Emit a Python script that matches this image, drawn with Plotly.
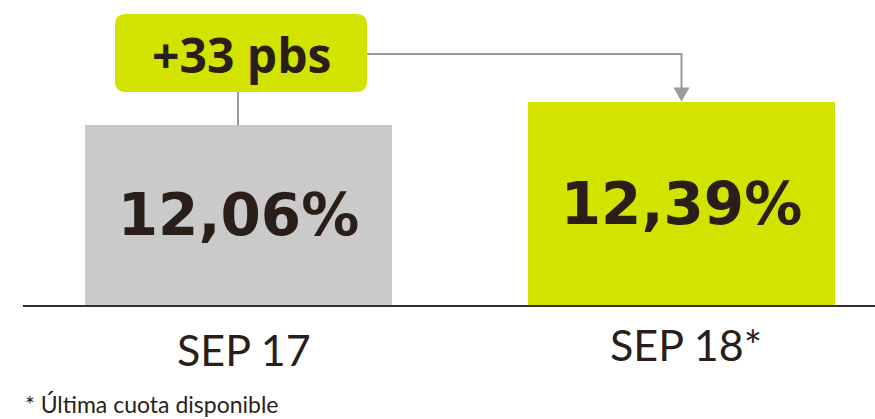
import plotly.graph_objects as go

# ---- data ----
categories = ["SEP 17", "SEP 18*"]
values = [12.06, 12.39]
value_labels = ["12,06%", "12,39%"]
bar_colors = ["#cacaca", "#d3e300"]
delta_label = "+33 pbs"
footnote = "* Última cuota disponible"

# ---- style ----
TEXT = "#2a1f18"
LINE = "#9a9a9a"
LIME = "#d3e300"
NARROW = "Lato, Roboto, sans-serif"

W, H = 875, 419
ML, MR, MT, MB = 23, 0, 0, 114
plot_w = W - ML - MR
plot_h = H - MT - MB

x_range = [-0.4865, 1.4368]
y_range = [9.591, 13.786]

def px_to_x(px):
    return x_range[0] + (px - ML) / plot_w * (x_range[1] - x_range[0])

def py_to_y(py):
    return y_range[1] - (py - MT) / plot_h * (y_range[1] - y_range[0])

def x_to_px(x):
    return ML + (x - x_range[0]) / (x_range[1] - x_range[0]) * plot_w

def y_to_py(y):
    return MT + (y_range[1] - y) / (y_range[1] - y_range[0]) * plot_h

fig = go.Figure()
fig.add_trace(go.Bar(
    x=[0, 1], y=[v - y_range[0] for v in values], base=y_range[0],
    width=0.693,
    marker=dict(color=bar_colors, line=dict(width=0)),
    text=value_labels, textposition="inside", insidetextanchor="middle",
    textangle=0,
    textfont=dict(family="DejaVu Sans", size=58, color=TEXT, weight="bold"),
    hoverinfo="skip",
))

# ---- delta box (rounded) ----
c0 = x_to_px(0)
bx0, bx1 = c0 - 123.5, c0 + 128.5
by0, by1 = 14, 92
r = 11
pts = [
    f"M {px_to_x(bx0 + r)},{py_to_y(by0)}",
    f"L {px_to_x(bx1 - r)},{py_to_y(by0)}",
    f"Q {px_to_x(bx1)},{py_to_y(by0)} {px_to_x(bx1)},{py_to_y(by0 + r)}",
    f"L {px_to_x(bx1)},{py_to_y(by1 - r)}",
    f"Q {px_to_x(bx1)},{py_to_y(by1)} {px_to_x(bx1 - r)},{py_to_y(by1)}",
    f"L {px_to_x(bx0 + r)},{py_to_y(by1)}",
    f"Q {px_to_x(bx0)},{py_to_y(by1)} {px_to_x(bx0)},{py_to_y(by1 - r)}",
    f"L {px_to_x(bx0)},{py_to_y(by0 + r)}",
    f"Q {px_to_x(bx0)},{py_to_y(by0)} {px_to_x(bx0 + r)},{py_to_y(by0)}",
    "Z",
]
fig.add_shape(type="path", path=" ".join(pts), xref="x", yref="y",
              fillcolor=LIME, line=dict(width=0), layer="above")

# vertical connector from box down to bar 1 top
fig.add_shape(type="line", xref="x", yref="y",
              x0=px_to_x(c0 - 0.5), x1=px_to_x(c0 - 0.5),
              y0=py_to_y(by1), y1=values[0],
              line=dict(color=LINE, width=2), layer="above")

# elbow connector to bar 2 with arrow
c1 = x_to_px(1)
ly = 54
tip = y_to_py(values[1])
fig.add_shape(type="path", xref="x", yref="y",
              path=f"M {px_to_x(bx1)},{py_to_y(ly)} L {px_to_x(c1)},{py_to_y(ly)} L {px_to_x(c1)},{py_to_y(tip - 12)}",
              line=dict(color=LINE, width=2), layer="above")
fig.add_shape(type="path", xref="x", yref="y",
              path=(f"M {px_to_x(c1 - 8)},{py_to_y(tip - 14)} "
                    f"L {px_to_x(c1 + 8)},{py_to_y(tip - 14)} "
                    f"L {px_to_x(c1)},{values[1]} Z"),
              fillcolor=LINE, line=dict(width=0), layer="above")

fig.add_annotation(x=px_to_x((bx0 + bx1) / 2), y=py_to_y(54), xref="x", yref="y",
                   text=f"<b>{delta_label}</b>", showarrow=False,
                   font=dict(family="Open Sans", size=48, color=TEXT),
                   xanchor="center", yanchor="middle")

# category labels
cat_py = [349, 344]
cat_dx = [5, 4]
for i, (cat, py) in enumerate(zip(categories, cat_py)):
    fig.add_annotation(x=i, y=(plot_h - (py - MT)) / plot_h, xref="x", yref="paper",
                       text=cat, showarrow=False, xshift=cat_dx[i],
                       font=dict(family=NARROW, size=43, color=TEXT),
                       xanchor="center", yanchor="middle")

# footnote
fig.add_annotation(x=0, y=(plot_h - (404 - MT)) / plot_h, xref="paper", yref="paper",
                   text=footnote, showarrow=False, xshift=0,
                   font=dict(family=NARROW, size=23, color=TEXT),
                   xanchor="left", yanchor="middle")

fig.update_layout(
    width=W, height=H,
    margin=dict(l=ML, r=MR, t=MT, b=MB, pad=0),
    paper_bgcolor="white", plot_bgcolor="white",
    showlegend=False, bargap=0,
    xaxis=dict(range=x_range, showgrid=False, zeroline=False, showticklabels=False,
               showline=True, linecolor="#3a2d24", linewidth=2, ticks="", fixedrange=True),
    yaxis=dict(range=y_range, showgrid=False, zeroline=False, showticklabels=False,
               showline=False, ticks="", fixedrange=True),
    uniformtext=dict(minsize=8, mode="show"),
)
fig.write_html("out.html", config={"displayModeBar": False},
               post_script="document.body.style.margin='0';")
